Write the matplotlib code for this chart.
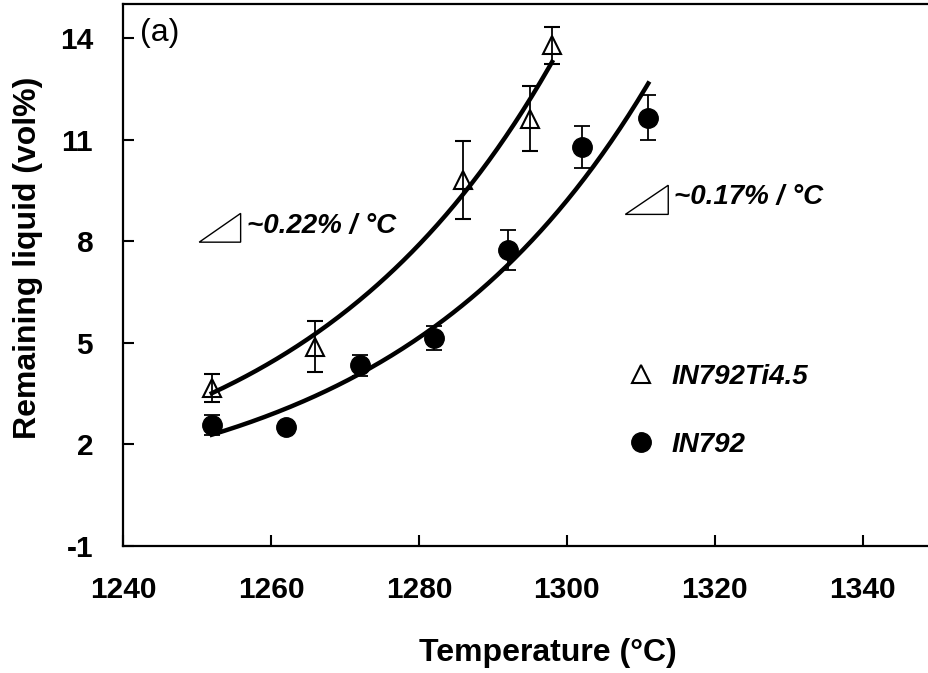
import numpy as np
import matplotlib
matplotlib.use('Agg')
import matplotlib.pyplot as plt
from matplotlib.lines import Line2D
from matplotlib.patches import Polygon

plt.rcParams['font.family'] = ['Liberation Sans', 'DejaVu Sans']
plt.rcParams['font.weight'] = 'bold'
plt.rcParams['axes.unicode_minus'] = False

# IN792Ti4.5 (open triangles)
t_ti = [1252, 1266, 1286, 1295, 1298]
v_ti = [3.67, 4.88, 9.80, 11.62, 13.78]
e_ti = [0.42, 0.75, 1.16, 0.95, 0.55]

# IN792 (filled circles)
t_in = [1252, 1262, 1272, 1282, 1292, 1302, 1311]
v_in = [2.58, 2.50, 4.33, 5.15, 7.74, 10.79, 11.65]
e_in = [0.30, 0.0, 0.30, 0.35, 0.59, 0.62, 0.67]

xticks = [1240, 1260, 1280, 1300, 1320, 1340]
yticks = [-1, 2, 5, 8, 11, 14]

fig = plt.figure(figsize=(9.29, 6.73), dpi=100)
ax = fig.add_axes([0.1324, 0.1887, 0.876, 0.8053])

# exponential trendlines (log-linear least squares, like a spreadsheet trendline)
def exp_trend(t, v):
    t = np.array(t, dtype=float)
    b, lna = np.polyfit(t - t[0], np.log(v), 1)
    tt = np.linspace(t[0], t[-1], 200)
    return tt, np.exp(lna) * np.exp(b * (tt - t[0]))

tt, vv = exp_trend(t_ti, v_ti)
ax.plot(tt, vv, color='black', lw=3.2, zorder=3)
tt, vv = exp_trend(t_in, v_in)
ax.plot(tt, vv, color='black', lw=3.2, zorder=3)

ax.errorbar(t_ti, v_ti, yerr=e_ti, fmt='^', ms=12.5, mfc='none', mec='black',
            mew=1.5, ecolor='black', elinewidth=1.3, capsize=6, capthick=1.3, zorder=4)
ax.errorbar(t_in, v_in, yerr=e_in, fmt='o', ms=14, mfc='black', mec='black',
            ecolor='black', elinewidth=1.3, capsize=6, capthick=1.3, zorder=4)

# slope markers
ax.add_patch(Polygon([(1250.3, 7.97), (1255.9, 7.97), (1255.9, 8.82)], closed=True,
                     fill=False, ec='black', lw=1.0))
ax.text(1256.7, 8.45, '~0.22% / °C', fontsize=20, fontstyle='italic',
        ha='left', va='center')
ax.add_patch(Polygon([(1307.9, 8.79), (1313.7, 8.79), (1313.7, 9.65)], closed=True,
                     fill=False, ec='black', lw=1.0))
ax.text(1314.5, 9.30, '~0.17% / °C', fontsize=20, fontstyle='italic',
        ha='left', va='center')

ax.text(0.021, 0.975, '(a)', transform=ax.transAxes, fontsize=23,
        fontweight='normal', ha='left', va='top')

handles = [Line2D([], [], ls='none', marker='^', ms=12.5, mfc='none', mec='black', mew=1.5),
           Line2D([], [], ls='none', marker='o', ms=14, mfc='black', mec='black')]
leg = ax.legend(handles, ['IN792Ti4.5', 'IN792'], loc='upper left',
                bbox_to_anchor=(0.619, 0.336), frameon=False, handlelength=1.0,
                handletextpad=0.6, labelspacing=1.5, borderpad=0, borderaxespad=0,
                prop={'size': 20, 'weight': 'bold', 'style': 'italic'})

ax.set_xlim(1240, 1350)
ax.set_ylim(-1, 15)
ax.set_xticks(xticks)
ax.set_yticks(yticks)
ax.tick_params(direction='in', length=8, width=1.5, pad=21.5, labelsize=21.5)
ax.spines['right'].set_visible(False)
for s in ['left', 'bottom', 'top']:
    ax.spines[s].set_linewidth(1.6)

ax.set_xlabel('Temperature (°C)', fontsize=23, fontweight='bold')
ax.xaxis.set_label_coords(0.522, -0.170)
ax.set_ylabel('Remaining liquid (vol%)', fontsize=23, fontweight='bold')
ax.yaxis.set_label_coords(-0.098, 0.531)

fig.savefig('out.png', dpi=100)
